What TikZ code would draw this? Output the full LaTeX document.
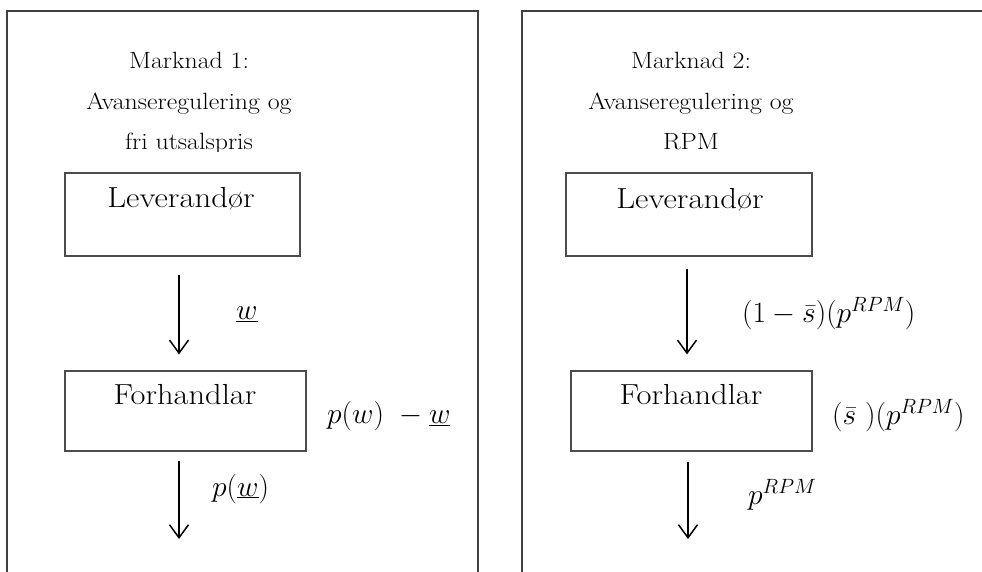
\RequirePackage{fix-cm}
\documentclass[tikz,border=0pt]{standalone}
\usepackage{graphicx}
\usetikzlibrary{arrows.meta}
% slightly widened serif text for the headings and stage names
\newcommand{\widetext}[2]{\scalebox{#1}[1]{#2}}
\begin{document}
\begin{tikzpicture}[x=1pt,y=-1pt,
  panel/.style={draw=black!75, line width=1.4pt},
  stage/.style={draw=black!70, line width=1.3pt, inner sep=0pt, rectangle},
  stagetext/.style={font=\fontsize{29}{34}\selectfont, anchor=base, inner sep=0pt},
  heading/.style={font=\fontsize{23.5}{28}\selectfont, anchor=base, inner sep=0pt},
  price/.style={font=\fontsize{29.5}{34}\selectfont, anchor=base west, inner sep=0pt},
  flow/.style={line width=1.5pt, -{Straight Barb[length=13pt,width=19pt,line width=1.5pt]}}]

\useasboundingbox (0,0) rectangle (982,571);
\clip (0,0) rectangle (982,571);

% the two market panels (open at the bottom edge)
\draw[panel] (7,11) rectangle (478,620);
\draw[panel] (522,11) rectangle (1010,620);

% headings
\node[heading] (h1a) at (189,68) {\widetext{1.1}{Marknad 1:}};
\node[heading] (h1b) at (189,109) {\widetext{1.1}{Avanseregulering og}};
\node[heading] (h2a) at (691,68) {\widetext{1.1}{Marknad 2:}};
\node[heading] (h2b) at (691,109) {\widetext{1.1}{Avanseregulering og}};
\begin{scope}
  \clip (0,0) rectangle (982,151);
  \node[heading] (h1c) at (189,149) {\widetext{1.1}{fri utsalspris}};
  \node[heading] (h2c) at (691,149) {\widetext{1.1}{RPM}};
\end{scope}

% market 1: supplier and retailer
\node[stage, minimum width=235pt, minimum height=83pt] (lev1) at (182.5,214.5) {};
\node[stagetext] (lev1t) at (181,207.5) {\widetext{1.13}{Leverandør}};
\node[stage, minimum width=241pt, minimum height=80pt] (fh1) at (185.5,411) {};
\node[stagetext] (fh1t) at (185,404) {\widetext{1.12}{Forhandlar}};
\coordinate (out1) at (179,539);

\draw[flow, shorten <=18pt, shorten >=16pt]
  ([xshift=-3.5pt]lev1.south) -- ([xshift=-3.5pt]lev1.south |- fh1.north);
\draw[flow, shorten <=9pt] ([xshift=-6.5pt]fh1.south) -- (out1);

\node[price] (w1) at (236,319.5) {$\underline{w}$};
\node[price] (m1) at (327,423.5) {$p(w)\ -\underline{w}$};
\node[price] (p1) at (212,496) {$p(\underline{w})$};

% market 2: supplier and retailer under resale price maintenance
\node[stage, minimum width=246pt, minimum height=83pt] (lev2) at (689,214.5) {};
\node[stagetext] (lev2t) at (690,208) {\widetext{1.13}{Leverandør}};
\node[stage, minimum width=241pt, minimum height=80pt] (fh2) at (691.5,411) {};
\node[stagetext] (fh2t) at (691,404) {\widetext{1.12}{Forhandlar}};
\coordinate (out2) at (688,539);

\draw[flow, shorten <=12pt, shorten >=16pt]
  ([xshift=-2pt]lev2.south) -- ([xshift=-2pt]lev2.south |- fh2.north);
\draw[flow, shorten <=10pt] ([xshift=-3.5pt]fh2.south) -- (out2);

\node[price] (w2) at (742,322) {$(1-\bar{s})(p^{RPM})$};
\node[price] (m2) at (832,424) {$(\bar{s}\ )(p^{RPM})$};
\node[price] (p2) at (748,504.5) {$p^{RPM}$};
\end{tikzpicture}
\end{document}
